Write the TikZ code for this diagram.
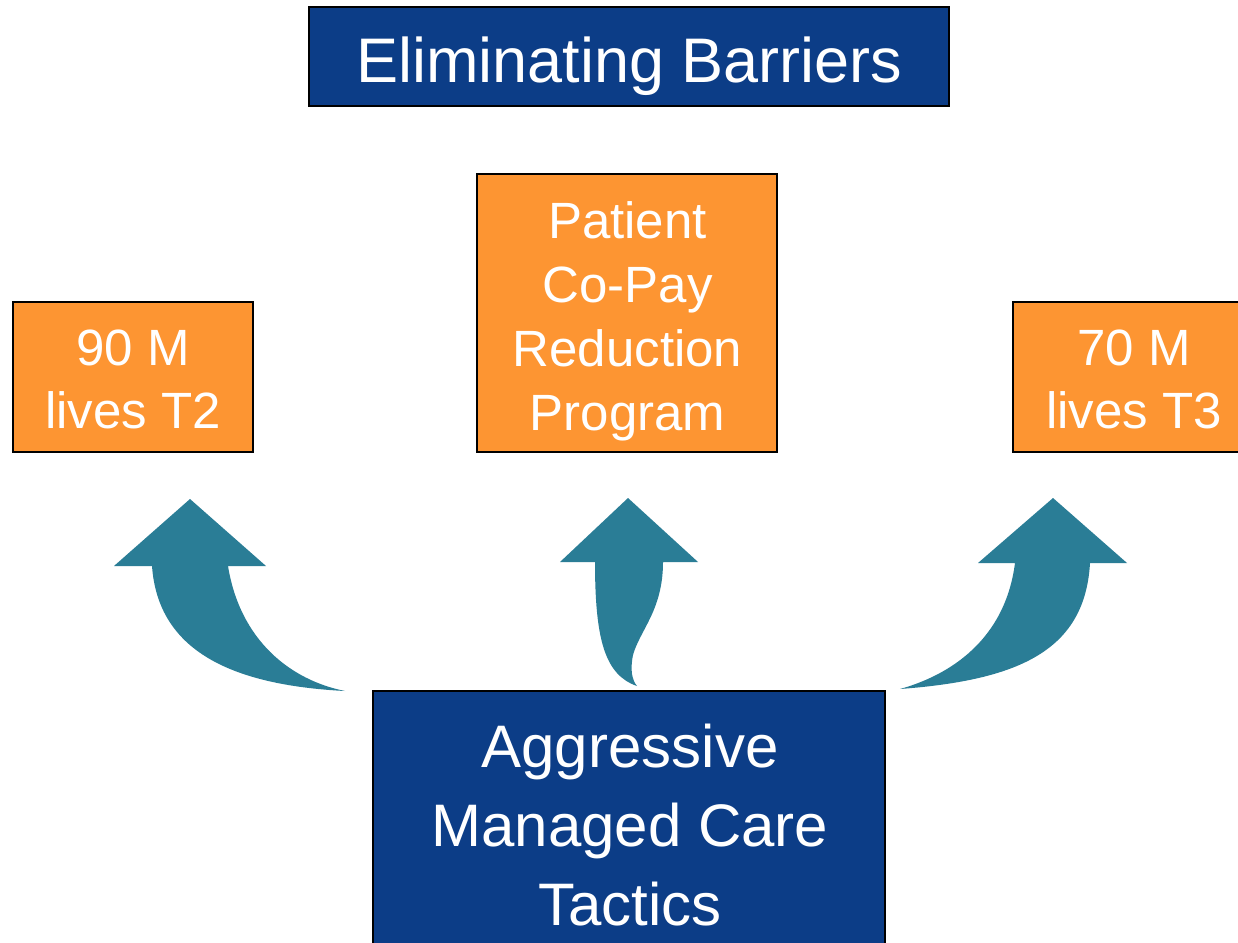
\documentclass[tikz,border=0pt]{standalone}
\usepackage{fontspec}
\setmainfont{Liberation Sans}
\definecolor{navy}{HTML}{0C3D87}
\definecolor{carrot}{HTML}{FD9532}
\definecolor{teal}{HTML}{2A7D96}
\begin{document}
\begin{tikzpicture}[x=1pt,y=-1pt,
  box/.style={draw=black,line width=2.5pt,inner sep=0pt},
  bluebox/.style={box,fill=navy},
  orangebox/.style={box,fill=carrot},
  words/.style={text=white,align=center,inner sep=0pt},
  bigarrow/.style={fill=teal,draw=none}]
\useasboundingbox (0,0) rectangle (1238,942);
\fill[white] (0,0) rectangle (1238,942);

% boxes
\node[bluebox,minimum width=640pt,minimum height=99pt] (title) at (629,56.5) {};
\node[orangebox,minimum width=240pt,minimum height=150pt] (left) at (133,377) {};
\node[orangebox,minimum width=300pt,minimum height=278pt] (mid) at (627,313) {};
\node[orangebox,minimum width=242pt,minimum height=150pt] (right) at (1134,377) {};
\node[bluebox,minimum width=512pt,minimum height=280pt] (base) at (629,831) {};

% texts
\node[words,font=\fontsize{63}{70}\selectfont] (titletext) at (629.5,65.9) {Eliminating Barriers};
\node[words,font=\fontsize{51}{63}\selectfont] (lefttext) at (133,379.3) {90 M\\lives T2};
\node[words,font=\fontsize{51}{63}\selectfont] (righttext) at (1134,379.3) {70 M\\lives T3};
\node[words,font=\fontsize{51}{64}\selectfont] (midtext) at (627.5,321.1) {Patient\\Co-Pay\\Reduction\\Program};
\node[words,font=\fontsize{60}{79}\selectfont] (basetext) at (630,825.5) {Aggressive\\Managed Care\\Tactics};

% curved arrows rising from the bottom box
\fill[bigarrow] (345,691) .. controls (290,680) and (240,640) .. (228,566)
  -- (266,566) -- (190,499) -- (114,566) -- (152,566)
  .. controls (158,650) and (230,685) .. (345,691) -- cycle;
\fill[bigarrow] (637,686) .. controls (632,680) and (630,670) .. (633,655)
  .. controls (640,630) and (663,610) .. (663,562)
  -- (698,562) -- (628,498) -- (560,562) -- (595,562)
  .. controls (595,640) and (605,675) .. (637,686) -- cycle;
\fill[bigarrow] (900,689) .. controls (950,675) and (1005,640) .. (1015,563)
  -- (978,563) -- (1053,498) -- (1127,563) -- (1090,563)
  .. controls (1085,650) and (1020,680) .. (900,689) -- cycle;
\end{tikzpicture}
\end{document}
